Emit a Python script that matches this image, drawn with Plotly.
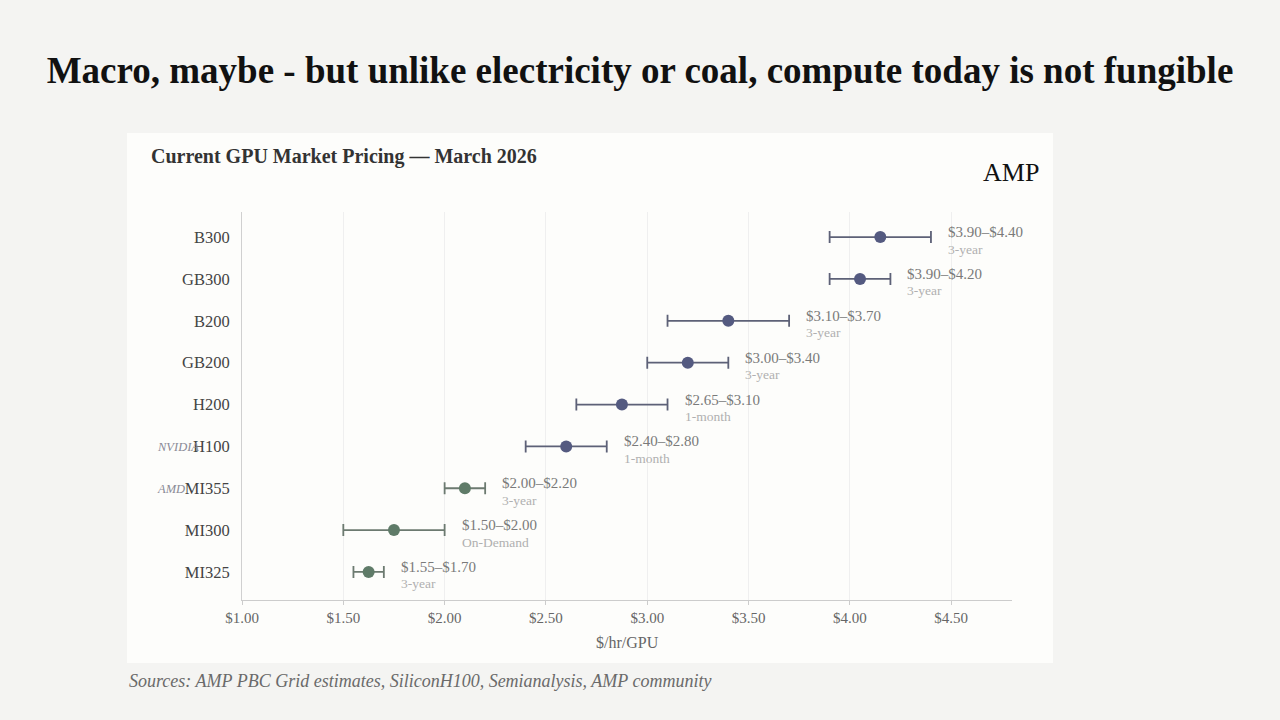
"""
GPU market pricing dot-range chart (March 2026)
"""
import plotly.graph_objects as go

# data
gpus = ['B300', 'GB300', 'B200', 'GB200', 'H200', 'H100', 'MI355', 'MI300', 'MI325']
vendor = ['NVIDIA'] * 6 + ['AMD'] * 3
price_low = [3.90, 3.90, 3.10, 3.00, 2.65, 2.40, 2.00, 1.50, 1.55]
price_high = [4.40, 4.20, 3.70, 3.40, 3.10, 2.80, 2.20, 2.00, 1.70]
term = ['3-year', '3-year', '3-year', '3-year', '1-month', '1-month', '3-year', 'On-Demand', '3-year']
tick_vals = [1.0, 1.5, 2.0, 2.5, 3.0, 3.5, 4.0, 4.5]
tick_text = ['$1.00', '$1.50', '$2.00', '$2.50', '$3.00', '$3.50', '$4.00', '$4.50']

SERIF = 'Liberation Serif, DejaVu Serif, serif'
colors = {'NVIDIA': '#545a80', 'AMD': '#5f7b68'}
bar_colors = {'NVIDIA': '#5d6177', 'AMD': '#6c7a70'}

mid = [(lo + hi) / 2 for lo, hi in zip(price_low, price_high)]

fig = go.Figure()

for v in ['NVIDIA', 'AMD']:
    idx = [i for i, name in enumerate(vendor) if name == v]
    fig.add_trace(go.Scatter(
        x=[mid[i] for i in idx],
        y=[gpus[i] for i in idx],
        mode='markers',
        marker=dict(size=12, color=colors[v]),
        error_x=dict(
            type='data',
            symmetric=False,
            array=[price_high[i] - mid[i] for i in idx],
            arrayminus=[mid[i] - price_low[i] for i in idx],
            color=bar_colors[v],
            thickness=1.8,
            width=6,
        ),
        showlegend=False,
        hoverinfo='skip',
    ))

# range + term labels to the right of each bar
for g, lo, hi, t in zip(gpus, price_low, price_high, term):
    fig.add_annotation(
        x=hi, y=g, xref='x', yref='y', xanchor='left', yanchor='middle',
        text=f'${lo:.2f}–${hi:.2f}', showarrow=False, xshift=15, yshift=5,
        font=dict(family=SERIF, size=15, color='#7a7a7a'),
    )
    fig.add_annotation(
        x=hi, y=g, xref='x', yref='y', xanchor='left', yanchor='middle',
        text=t, showarrow=False, xshift=15, yshift=-12,
        font=dict(family=SERIF, size=13.5, color='#b0b0b0'),
    )

# vendor group labels (partly hidden behind tick labels, as in the original)
for label, cat in [('NVIDIA', 'H100'), ('AMD', 'MI355')]:
    fig.add_annotation(
        x=-0.113, y=cat, xref='paper', yref='y', xanchor='left', yanchor='middle',
        text=f'<i>{label}</i>', showarrow=False, yshift=-1,
        font=dict(family=SERIF, size=12.5, color='#8a8a96'),
    )

# separator between vendors
fig.add_shape(type='line', xref='paper', yref='y', x0=-0.113, x1=1, y0=5.5, y1=5.5,
              line=dict(color='#dcdcdc', width=1, dash='dot'), layer='below')

# chart panel
fig.add_shape(type='rect', xref='paper', yref='paper', x0=-0.1494, x1=1.0532, y0=-0.1624, y1=1.2036,
              fillcolor='#fdfdfb', line=dict(width=0), layer='below')

fig.add_annotation(
    x=-0.1208, y=1.1418, xref='paper', yref='paper', xanchor='left', yanchor='middle',
    text='<b>Current GPU Market Pricing — March 2026</b>', showarrow=False,
    font=dict(family=SERIF, size=20, color='#333333'),
)
fig.add_annotation(
    x=1.0377, y=1.103, xref='paper', yref='paper', xanchor='right', yanchor='middle',
    text='AMP', showarrow=False,
    font=dict(family=SERIF, size=26, color='#111111'),
)
fig.add_annotation(
    x=0.5, y=-0.1108, xref='paper', yref='paper', xanchor='center', yanchor='middle',
    text='$/hr/GPU', showarrow=False,
    font=dict(family=SERIF, size=16, color='#666666'),
)
fig.add_annotation(
    x=-0.1494, y=-0.2088, xref='paper', yref='paper', xanchor='left', yanchor='middle',
    text='<i>Sources: AMP PBC Grid estimates, SiliconH100, Semianalysis, AMP community</i>',
    showarrow=False,
    font=dict(family=SERIF, size=18, color='#6a6a6a'),
)

fig.update_layout(
    width=1280,
    height=720,
    paper_bgcolor='#f4f4f2',
    plot_bgcolor='#fdfdfb',
    font=dict(family=SERIF, size=14, color='#555555'),
    margin=dict(l=242, r=268, t=212, b=120),
    title=dict(
        text='<b>Macro, maybe - but unlike electricity or coal, compute today is not fungible</b>',
        x=0.5, xanchor='center', y=0.903, yanchor='middle',
        font=dict(family=SERIF, size=37, color='#111111'),
    ),
    xaxis=dict(
        range=[1.0, 4.8],
        tickvals=tick_vals,
        ticktext=tick_text,
        showgrid=True,
        gridcolor='#efefef',
        zeroline=False,
        showline=True,
        linecolor='#cccccc',
        ticks='outside',
        ticklen=4,
        tickcolor='#cccccc',
        tickfont=dict(family=SERIF, size=15, color='#666666'),
    ),
    yaxis=dict(
        type='category',
        categoryorder='array',
        categoryarray=gpus,
        range=[8.67, -0.6],
        showgrid=False,
        zeroline=False,
        showline=True,
        linecolor='#d0d0d0',
        ticks='',
        ticklabelstandoff=8,
        tickfont=dict(family=SERIF, size=16.5, color='#444444'),
    ),
)

# drop the default page margin so the figure sits flush in the window
fig.write_html(
    "out.html",
    config={'displayModeBar': False},
    post_script="document.body.style.margin='0';",
)
